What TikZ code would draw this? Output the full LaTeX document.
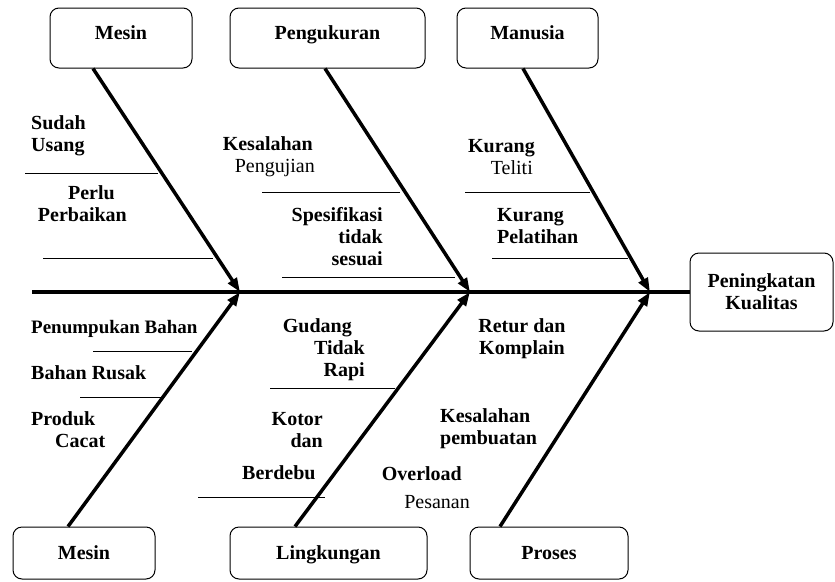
\documentclass[tikz,border=0pt]{standalone}
\usepackage{fontspec}
\setmainfont{Liberation Serif}
\usetikzlibrary{arrows.meta}

\begin{document}
\begin{tikzpicture}[
    x=1pt, y=-1pt,
    font=\fontsize{20}{22}\selectfont\bfseries,
    topcat/.style={rectangle, draw, rounded corners=9pt, line width=1pt, minimum height=60pt, text height=13pt, text depth=10pt},
    botcat/.style={rectangle, draw, rounded corners=9pt, line width=1pt, minimum height=52pt, text height=13pt, text depth=0pt},
    effect/.style={rectangle, draw, rounded corners=9pt, line width=1pt, minimum width=143pt, minimum height=78pt, align=center},
    cause/.style={inner sep=0pt},
    bone/.style={-{Triangle[length=14pt,width=10pt]}, line width=3.5pt},
    spine/.style={line width=4pt},
    sub/.style={line width=1pt}
]
    \useasboundingbox (0,0) rectangle (835,581);
    % Effect
    \node[effect] (effect) at (761.5,292) {Peningkatan\\Kualitas};
    \coordinate (start) at (32,292);
    \coordinate (tip1) at (240,292);
    \coordinate (tip2) at (470,292);
    \coordinate (tip3) at (650,292);
    % Top Categories
    \node[topcat, minimum width=142pt] (mesinA) at (121,38) {Mesin};
    \node[topcat, minimum width=195pt] (ukur) at (327.5,38) {Pengukuran};
    \node[topcat, minimum width=141pt] (manusia) at (527.5,38) {Manusia};
    % Bottom Categories
    \node[botcat, minimum width=142pt] (mesinB) at (84,553) {Mesin};
    \node[botcat, minimum width=197pt] (lingkungan) at (328.5,553) {Lingkungan};
    \node[botcat, minimum width=158pt] (proses) at (549,553) {Proses};
    % Spine
    \draw[spine] (start) -- (effect.west);
    % Bones
    \draw[bone] ([xshift=-28pt]mesinA.south) -- (tip1);
    \draw[bone] ([xshift=-2.5pt]ukur.south) -- (tip2);
    \draw[bone] ([xshift=-4.5pt]manusia.south) -- (tip3);
    \draw[bone] ([xshift=-16pt]mesinB.north) -- (tip1);
    \draw[bone] ([xshift=-33.5pt]lingkungan.north) -- (tip2);
    \draw[bone] ([xshift=-49pt]proses.north) -- (tip3);
    % Sub Causes
    \draw[sub] (25,173) -- (158,173);
    \draw[sub] (43,258) -- (213,258);
    \draw[sub] (262,192) -- (400,192);
    \draw[sub] (282,277) -- (455,277);
    \draw[sub] (465,192) -- (590,192);
    \draw[sub] (492,258) -- (628,258);
    \draw[sub] (93,351) -- (192,351);
    \draw[sub] (80,397) -- (163,397);
    \draw[sub] (270,388) -- (395,388);
    \draw[sub] (198,497) -- (325,497);
    % Cause Labels
    \node[cause, anchor=west, align=left] (usang) at (31,136) {Sudah\\Usang};
    \node[cause, anchor=east, align=right] (perbaikan) at (127,204) {Perlu\hspace*{12pt}\\Perbaikan};
    \node[cause, anchor=east, align=right] (pengujian) at (315,157) {Kesalahan\hspace*{2pt}\\\mdseries Pengujian};
    \node[cause, anchor=east, align=right] (spesifikasi) at (383,237) {Spesifikasi\\tidak\\sesuai};
    \node[cause, anchor=east, align=right] (teliti) at (535,157) {Kurang\\\mdseries Teliti\hspace*{2pt}};
    \node[cause, anchor=west, align=left] (pelatihan) at (497,226) {Kurang\\Pelatihan};
    \node[cause, anchor=west, font=\fontsize{19}{22}\selectfont\bfseries] (penumpukan) at (31,329) {Penumpukan Bahan};
    \node[cause, anchor=west] (rusak) at (31,373) {Bahan Rusak};
    \node[cause, anchor=west, align=left] (cacat) at (31,430) {Produk\\\hspace*{24pt}Cacat};
    \node[cause, anchor=east, align=right] (gudang) at (365,350) {Gudang\hspace*{13pt}\\Tidak\\Rapi};
    \node[cause, anchor=east, align=right] (kotor) at (323,430) {Kotor\\dan};
    \node[cause, anchor=west] (berdebu) at (242,473) {Berdebu};
    \node[cause, anchor=east, align=right] (overload) at (470,488) {Overload\hspace*{8pt}\\[6pt]\mdseries Pesanan};
    \node[cause, align=center] (retur) at (522,339) {Retur dan\\Komplain};
    \node[cause, anchor=west, align=left] (pembuatan) at (440,429) {Kesalahan\\pembuatan};
\end{tikzpicture}
\end{document}
